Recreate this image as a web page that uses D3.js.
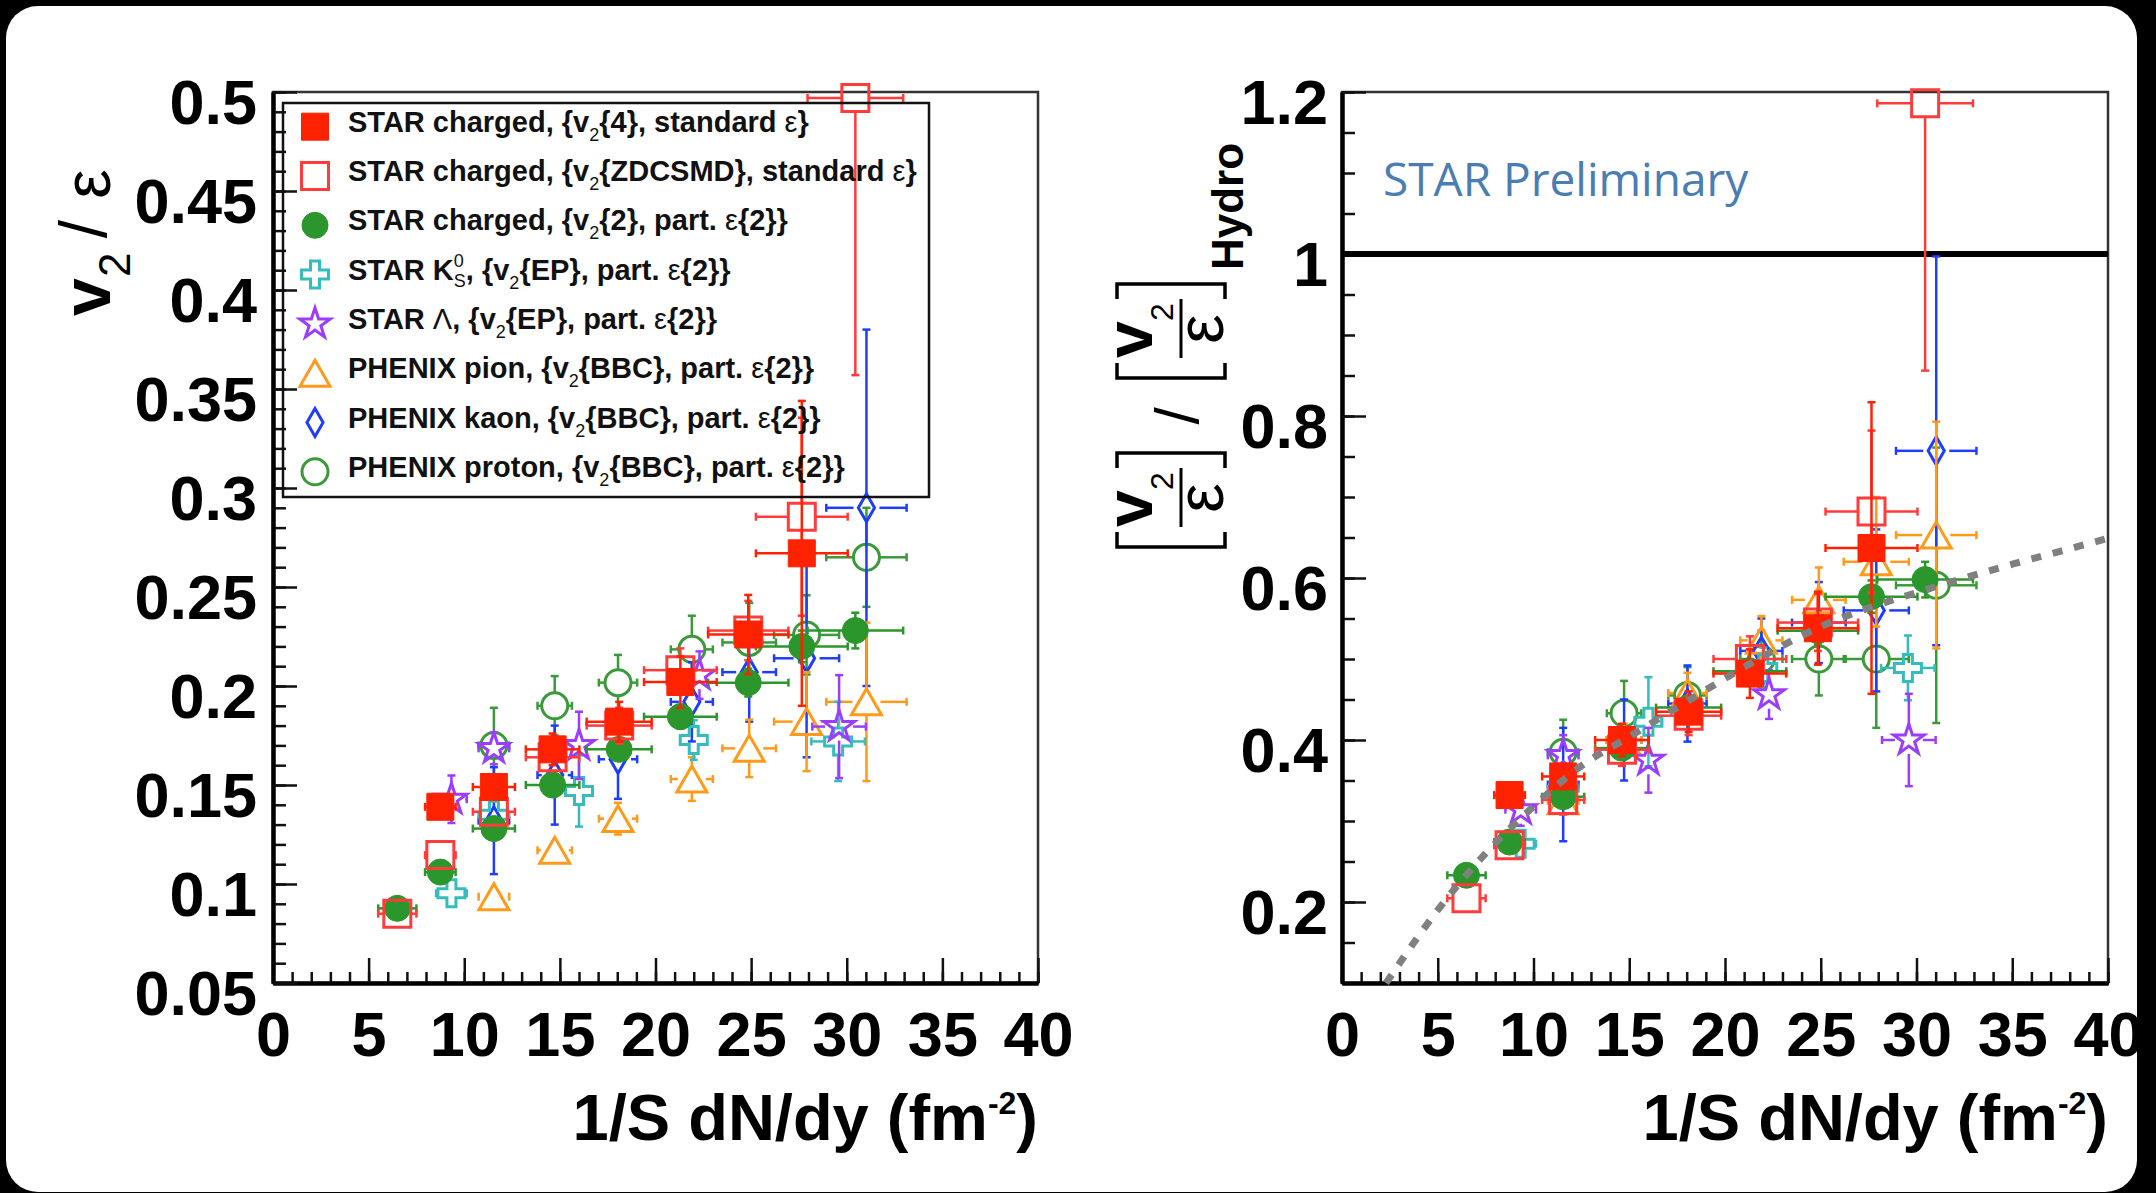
<!DOCTYPE html>
<html>
<head>
<meta charset="utf-8">
<script src="https://cdn.jsdelivr.net/npm/d3@7"></script>
<style>
  html, body { margin: 0; padding: 0; background: #000; }
  svg { display: block; }
</style>
</head>
<body>
<div id="chart"></div>
<script>
// ---- data ----
// x positions (1/S dN/dy) and their horizontal errors
const starX = [6.5, 8.75, 11.55, 14.62, 18.1, 21.3, 24.85, 27.65, 30.45];
const starXErr = [1.0, 0.8, 1.1, 1.4, 1.7, 1.9, 2.1, 2.4, 2.5];
const phenixX = [11.55, 14.73, 18.04, 21.9, 24.9, 27.9, 31.03];
const phenixXErr = [0.8, 0.9, 1.0, 1.1, 1.4, 1.7, 2.1];
const k0sX = [9.33, 11.55, 16.0, 22.0, 29.55];
const lamX = [9.33, 11.55, 16.0, 22.3, 29.6];
const strangeXErr = [0.8, 0.8, 0.7, 0.6, 1.4];

// STAR charged v2{4}, standard eps (filled red square)
const v24Left = [null, 0.139, 0.149, 0.168, 0.182, 0.202, 0.226, 0.267, null];
const v24LeftErr = [null, 0.004, 0.006, 0.008, 0.010, 0.013, 0.020, 0.077, null];
const v24Right = [null, 0.332, 0.355, 0.400, 0.435, 0.482, 0.538, 0.637, null];
const v24RightErr = [null, 0.010, 0.015, 0.020, 0.025, 0.030, 0.045, 0.180, null];

// STAR charged v2{ZDCSMD}, standard eps (open red square)
const zdcLeft = [0.085, 0.1146, 0.1365, 0.164, 0.180, 0.208, 0.228, 0.2855, 0.497];
const zdcLeftErr = [0.004, 0.005, 0.006, 0.007, 0.009, 0.011, 0.015, 0.05, 0.14];
const zdcRight = [0.2046, 0.270, 0.326, 0.388, 0.430, 0.500, 0.545, 0.682, 1.186];
const zdcRightErr = [0.012, 0.014, 0.018, 0.020, 0.024, 0.028, 0.035, 0.10, 0.33];

// STAR charged v2{2}, part. eps{2} (filled green circle)
const v22Left = [0.0877, 0.106, 0.128, 0.150, 0.168, 0.1845, 0.2017, 0.220, 0.228];
const v22LeftErr = [0.003, 0.003, 0.004, 0.005, 0.005, 0.006, 0.007, 0.008, 0.009];
const v22Right = [0.233, 0.274, 0.330, 0.390, 0.440, 0.485, 0.535, 0.577, 0.598];
const v22RightErr = [0.008, 0.009, 0.010, 0.012, 0.013, 0.015, 0.017, 0.020, 0.022];

// STAR K0s (open cyan cross)
const k0sLeft = [0.0953, 0.135, 0.147, 0.1727, 0.172];
const k0sLeftErr = [0.004, 0.007, 0.018, 0.010, 0.020];
const k0sRight = [0.272, 0.340, 0.4226, 0.489, 0.489];
const k0sRightErr = [0.010, 0.020, 0.055, 0.025, 0.040];

// STAR Lambda (open purple star)
const lamLeft = [0.1428, 0.1685, 0.170, 0.2055, 0.1795];
const lamLeftErr = [0.012, 0.008, 0.017, 0.012, 0.026];
const lamRight = [0.314, 0.381, 0.375, 0.456, 0.400];
const lamRightErr = [0.020, 0.025, 0.040, 0.030, 0.057];

// PHENIX pion (open orange triangle)
const pionLeft = [0.0936, 0.117, 0.133, 0.153, 0.1685, 0.182, 0.192];
const pionLeftErr = [0.004, 0.006, 0.008, 0.011, 0.0145, 0.025, 0.040];
const pionRight = [0.325, 0.400, 0.458, 0.523, 0.573, 0.620, 0.653];
const pionRightErr = [0.015, 0.020, 0.025, 0.030, 0.040, 0.080, 0.140];

// PHENIX kaon (open blue diamond)
const kaonLeft = [0.132, 0.155, 0.163, 0.192, 0.207, 0.214, 0.290];
const kaonLeftErr = [0.027, 0.025, 0.020, 0.020, 0.025, 0.050, 0.090];
const kaonRight = [0.345, 0.400, 0.445, 0.510, 0.545, 0.560, 0.757];
const kaonRightErr = [0.070, 0.050, 0.047, 0.040, 0.050, 0.100, 0.240];

// PHENIX proton (open green circle)
const protonLeft = [0.170, 0.190, 0.2017, 0.2185, 0.222, 0.2258, 0.265];
const protonLeftErr = [0.019, 0.015, 0.014, 0.017, 0.020, 0.020, 0.025];
const protonRight = [0.385, 0.433, 0.455, 0.500, 0.500, 0.500, 0.591];
const protonRightErr = [0.040, 0.040, 0.035, 0.035, 0.045, 0.085, 0.170];

// hydro reference curve (grey dotted) in the right panel
const hydroX = [2.3, 5, 7.5, 10, 12.5, 15, 17.5, 20, 22.5, 25, 27.5, 30, 32.5, 35, 37.5, 40];
const hydroY = [0.1, 0.19, 0.26, 0.318, 0.368, 0.404, 0.44, 0.476, 0.51, 0.54, 0.563, 0.582, 0.6, 0.617, 0.633, 0.649];

// ticks and labels
const xTicks = [0, 5, 10, 15, 20, 25, 30, 35, 40];
const xLabels = ["0", "5", "10", "15", "20", "25", "30", "35", "40"];
const leftYTicks = [0.05, 0.1, 0.15, 0.2, 0.25, 0.3, 0.35, 0.4, 0.45, 0.5];
const leftYLabels = ["0.05", "0.1", "0.15", "0.2", "0.25", "0.3", "0.35", "0.4", "0.45", "0.5"];
const rightYTicks = [0.2, 0.4, 0.6, 0.8, 1.0, 1.2];
const rightYLabels = ["0.2", "0.4", "0.6", "0.8", "1", "1.2"];

// legend text, split into pieces: [text, kind]
const legendLabels = [
    [["STAR charged, {v"], ["2", "sub"], ["{4}, standard "], ["ε", "thin"], ["}"]],
    [["STAR charged, {v"], ["2", "sub"], ["{ZDCSMD}, standard "], ["ε", "thin"], ["}"]],
    [["STAR charged, {v"], ["2", "sub"], ["{2}, part. "], ["ε", "thin"], ["{2}}"]],
    [["STAR K"], ["0", "sup"], ["S", "subback"], [", {v"], ["2", "sub"], ["{EP}, part. "], ["ε", "thin"], ["{2}}"]],
    [["STAR "], ["Λ", "thin"], [", {v"], ["2", "sub"], ["{EP}, part. "], ["ε", "thin"], ["{2}}"]],
    [["PHENIX pion, {v"], ["2", "sub"], ["{BBC}, part. "], ["ε", "thin"], ["{2}}"]],
    [["PHENIX kaon, {v"], ["2", "sub"], ["{BBC}, part. "], ["ε", "thin"], ["{2}}"]],
    [["PHENIX proton, {v"], ["2", "sub"], ["{BBC}, part. "], ["ε", "thin"], ["{2}}"]]
];

// ---- drawing ----
const W = 2156, H = 1193;
const FONT = "'Liberation Sans', Arial, Helvetica, sans-serif";

const svg = d3.select("#chart").append("svg")
    .attr("width", W)
    .attr("height", H);

svg.append("rect").attr("width", W).attr("height", H).attr("fill", "#000");
svg.append("rect")
    .attr("x", 6).attr("y", 6)
    .attr("width", 2131).attr("height", 1186)
    .attr("rx", 32)
    .attr("fill", "#fff");

const leftBox = { x0: 273, x1: 1038, y0: 92, y1: 983 };
const rightBox = { x0: 1342, x1: 2108, y0: 92, y1: 983 };

const xL = d3.scaleLinear().domain([0, 40]).range([leftBox.x0, leftBox.x1]);
const yL = d3.scaleLinear().domain([0.05, 0.5]).range([leftBox.y1, leftBox.y0]);
const xR = d3.scaleLinear().domain([0, 40]).range([rightBox.x0, rightBox.x1]);
const yR = d3.scaleLinear().domain([0.1, 1.2]).range([rightBox.y1, rightBox.y0]);

function styleAxis(g) {
    g.attr("font-family", FONT)
        .attr("font-size", 63)
        .attr("font-weight", "bold");
    g.select(".domain").attr("stroke", "#000").attr("stroke-width", 4);
    g.selectAll(".tick line").attr("stroke", "#111").attr("stroke-width", 2.5);
    g.selectAll(".tick text").attr("fill", "#000");
}

function drawFrame(box, x, y, yTicks, yLabels, yMinor, yPad) {
    svg.append("rect")
        .attr("x", box.x0).attr("y", box.y0)
        .attr("width", box.x1 - box.x0).attr("height", box.y1 - box.y0)
        .attr("fill", "none")
        .attr("stroke", "#333")
        .attr("stroke-width", 2.5);

    // minor ticks
    svg.append("g")
        .attr("transform", `translate(0,${box.y1})`)
        .call(d3.axisBottom(x).tickValues(d3.range(0, 41, 1)).tickSize(-11).tickSizeOuter(0).tickFormat(""))
        .call(styleAxis);
    svg.append("g")
        .attr("transform", `translate(${box.x0},0)`)
        .call(d3.axisLeft(y).tickValues(yMinor).tickSize(-13).tickSizeOuter(0).tickFormat(""))
        .call(styleAxis);

    // major ticks with labels
    svg.append("g")
        .attr("transform", `translate(0,${box.y1})`)
        .call(d3.axisBottom(x).tickValues(xTicks).tickSize(-25).tickSizeOuter(0)
            .tickPadding(28).tickFormat((d, i) => xLabels[i]))
        .call(styleAxis);
    const gy = svg.append("g")
        .attr("transform", `translate(${box.x0},0)`)
        .call(d3.axisLeft(y).tickValues(yTicks).tickSize(-24).tickSizeOuter(0)
            .tickPadding(yPad).tickFormat((d, i) => yLabels[i]))
        .call(styleAxis);
    gy.selectAll(".tick text").attr("dy", "0.5em");

    // x title
    const t = svg.append("text")
        .attr("x", box.x1)
        .attr("y", 1140)
        .attr("text-anchor", "end")
        .attr("font-family", FONT)
        .attr("font-size", 65)
        .attr("font-weight", "bold");
    t.append("tspan").text("1/S dN/dy (fm");
    t.append("tspan").attr("font-size", 32).attr("dy", -26).text("-2");
    t.append("tspan").attr("dy", 26).text(")");
}

drawFrame(leftBox, xL, yL, leftYTicks, leftYLabels, d3.range(0.05, 0.5001, 0.01), 16);
drawFrame(rightBox, xR, yR, rightYTicks, rightYLabels, d3.range(0.1, 1.2001, 0.05), 14);

// line at 1 in the right panel
svg.append("line")
    .attr("x1", xR(0)).attr("x2", xR(40))
    .attr("y1", yR(1)).attr("y2", yR(1))
    .attr("stroke", "#000")
    .attr("stroke-width", 6);

// marker styles
const styles = {
    v24: { color: "#ff2200", shape: d3.symbolSquare, size: 729, open: false, half: 13 },
    zdc: { color: "#ff3b3b", shape: d3.symbolSquare, size: 729, open: true, half: 13 },
    v22: { color: "#2b962b", shape: d3.symbolCircle, size: 531, open: false, half: 13 },
    k0s: { color: "#35bcbc", shape: d3.symbolCross, size: 405, open: true, half: 13 },
    lam: { color: "#9b3dff", shape: d3.symbolStar, size: 290, open: true, half: 14 },
    pion: { color: "#ff9a1a", shape: d3.symbolTriangle, size: 390, open: true, half: 14 },
    kaon: { color: "#1f3dff", shape: d3.symbolDiamond, size: 226, open: true, half: 13 },
    proton: { color: "#3a9a3a", shape: d3.symbolCircle, size: 531, open: true, half: 13 }
};
const legendOrder = ["v24", "zdc", "v22", "k0s", "lam", "pion", "kaon", "proton"];

function marker(g, st, cx, cy) {
    const dy = st.shape === d3.symbolTriangle ? 4.3 : 0;
    g.append("path")
        .attr("d", d3.symbol().type(st.shape).size(st.size)())
        .attr("transform", `translate(${cx},${cy + dy})`)
        .attr("fill", st.open ? "none" : st.color)
        .attr("stroke", st.color)
        .attr("stroke-width", st.open ? 3 : 1);
}

function drawSeries(xs, xerrs, ys, errs, xScale, yScale, st) {
    const g = svg.append("g");
    const gap = st.open ? st.half : 0;
    const [yBottom, yTop] = yScale.range();
    xs.forEach((xv, i) => {
        const yv = ys[i];
        if (yv == null) return;
        const cx = xScale(xv), cy = yScale(yv);
        const ex = xScale(xv + xerrs[i]) - cx;
        const ey = cy - yScale(yv + errs[i]);
        const segs = [];
        if (ex > gap) {
            segs.push([cx + gap, cy, cx + ex, cy], [cx - gap, cy, cx - ex, cy]);
            segs.push([cx + ex, cy - 4, cx + ex, cy + 4], [cx - ex, cy - 4, cx - ex, cy + 4]);
        }
        if (ey > gap && ey > 3) {
            // error bars are cut at the frame, caps only when inside
            const up = Math.max(cy - ey, yTop), down = Math.min(cy + ey, yBottom);
            if (cy - gap > up) segs.push([cx, cy - gap, cx, up]);
            if (cy + gap < down) segs.push([cx, cy + gap, cx, down]);
            if (cy - ey >= yTop) segs.push([cx - 4, cy - ey, cx + 4, cy - ey]);
            if (cy + ey <= yBottom) segs.push([cx - 4, cy + ey, cx + 4, cy + ey]);
        }
        g.selectAll(null).data(segs).enter().append("line")
            .attr("x1", d => d[0]).attr("y1", d => d[1])
            .attr("x2", d => d[2]).attr("y2", d => d[3])
            .attr("stroke", st.color)
            .attr("stroke-width", 2.5);
        marker(g, st, cx, cy);
    });
}

function drawPanel(xScale, yScale, side) {
    const L = side === "left";
    drawSeries(phenixX, phenixXErr, L ? protonLeft : protonRight, L ? protonLeftErr : protonRightErr, xScale, yScale, styles.proton);
    drawSeries(phenixX, phenixXErr, L ? kaonLeft : kaonRight, L ? kaonLeftErr : kaonRightErr, xScale, yScale, styles.kaon);
    drawSeries(phenixX, phenixXErr, L ? pionLeft : pionRight, L ? pionLeftErr : pionRightErr, xScale, yScale, styles.pion);
    drawSeries(k0sX, strangeXErr, L ? k0sLeft : k0sRight, L ? k0sLeftErr : k0sRightErr, xScale, yScale, styles.k0s);
    drawSeries(lamX, strangeXErr, L ? lamLeft : lamRight, L ? lamLeftErr : lamRightErr, xScale, yScale, styles.lam);
    drawSeries(starX, starXErr, L ? v22Left : v22Right, L ? v22LeftErr : v22RightErr, xScale, yScale, styles.v22);
    drawSeries(starX, starXErr, L ? zdcLeft : zdcRight, L ? zdcLeftErr : zdcRightErr, xScale, yScale, styles.zdc);
    drawSeries(starX, starXErr, L ? v24Left : v24Right, L ? v24LeftErr : v24RightErr, xScale, yScale, styles.v24);
}

drawPanel(xL, yL, "left");
drawPanel(xR, yR, "right");

// hydro curve
svg.append("path")
    .datum(hydroX.map((x, i) => [x, hydroY[i]]))
    .attr("d", d3.line().x(d => xR(d[0])).y(d => yR(d[1])).curve(d3.curveMonotoneX))
    .attr("fill", "none")
    .attr("stroke", "#808080")
    .attr("stroke-width", 7)
    .attr("stroke-dasharray", "10,12");

// legend
svg.append("rect")
    .attr("x", 283).attr("y", 103)
    .attr("width", 646).attr("height", 394)
    .attr("fill", "none")
    .attr("stroke", "#111")
    .attr("stroke-width", 2.5);

legendOrder.forEach((key, i) => {
    const rowY = 126.7 + i * 49.3;
    marker(svg, styles[key], 315, rowY);
    const base = rowY + 5;
    const t = svg.append("text")
        .attr("x", 348).attr("y", base)
        .attr("font-family", FONT)
        .attr("font-size", 29)
        .attr("font-weight", "bold")
        .attr("fill", "#111");
    legendLabels[i].forEach(([txt, kind]) => {
        const s = t.append("tspan").attr("y", base).text(txt);
        if (kind === "sub") s.attr("y", base + 9).attr("font-size", 18).attr("font-weight", "normal");
        if (kind === "sup") s.attr("y", base - 13).attr("font-size", 18).attr("font-weight", "normal");
        if (kind === "subback") s.attr("y", base + 7).attr("dx", -10).attr("font-size", 18).attr("font-weight", "normal");
        if (kind === "thin") s.attr("font-weight", "normal");
    });
});

// STAR Preliminary
svg.append("text")
    .attr("x", 1383).attr("y", 196)
    .attr("font-family", "'Open Sans', sans-serif")
    .attr("font-size", 46)
    .attr("fill", "#4a7db3")
    .text("STAR Preliminary");

// rotated text helper
function rtext(sx, sy, txt, size, weight, anchor) {
    svg.append("text")
        .attr("transform", `translate(${sx},${sy}) rotate(-90)`)
        .attr("text-anchor", anchor)
        .attr("font-family", FONT)
        .attr("font-size", size)
        .attr("font-weight", weight)
        .text(txt);
}

// left y title: v2 / eps
rtext(110, 316, "v", 68, "bold", "start");
rtext(130, 277, "2", 44, "normal", "start");
rtext(106, 229, "/", 66, "normal", "middle");
rtext(110, 184, "ε", 66, "normal", "middle");

// right y title: [v2/eps] / [v2/eps]_Hydro
function fracBlock(shift) {
    const o = -shift;
    rtext(1152, 527 + o, "v", 66, "bold", "start");
    rtext(1173, 490 + o, "2", 32, "normal", "start");
    rtext(1223, 498 + o, "ε", 66, "normal", "middle");
    svg.append("line")
        .attr("x1", 1181).attr("x2", 1181)
        .attr("y1", 468 + o).attr("y2", 527 + o)
        .attr("stroke", "#000").attr("stroke-width", 3);
    // brackets
    svg.append("path")
        .attr("d", `M1117,${532 + o} V${547 + o} H1225 V${532 + o}`)
        .attr("fill", "none").attr("stroke", "#000").attr("stroke-width", 3.5);
    svg.append("path")
        .attr("d", `M1117,${468 + o} V${453 + o} H1225 V${468 + o}`)
        .attr("fill", "none").attr("stroke", "#000").attr("stroke-width", 3.5);
}
fracBlock(0);
fracBlock(169);
rtext(1198, 416, "/", 62, "normal", "middle");
rtext(1243, 270, "Hydro", 44, "bold", "start");
</script>
</body>
</html>
